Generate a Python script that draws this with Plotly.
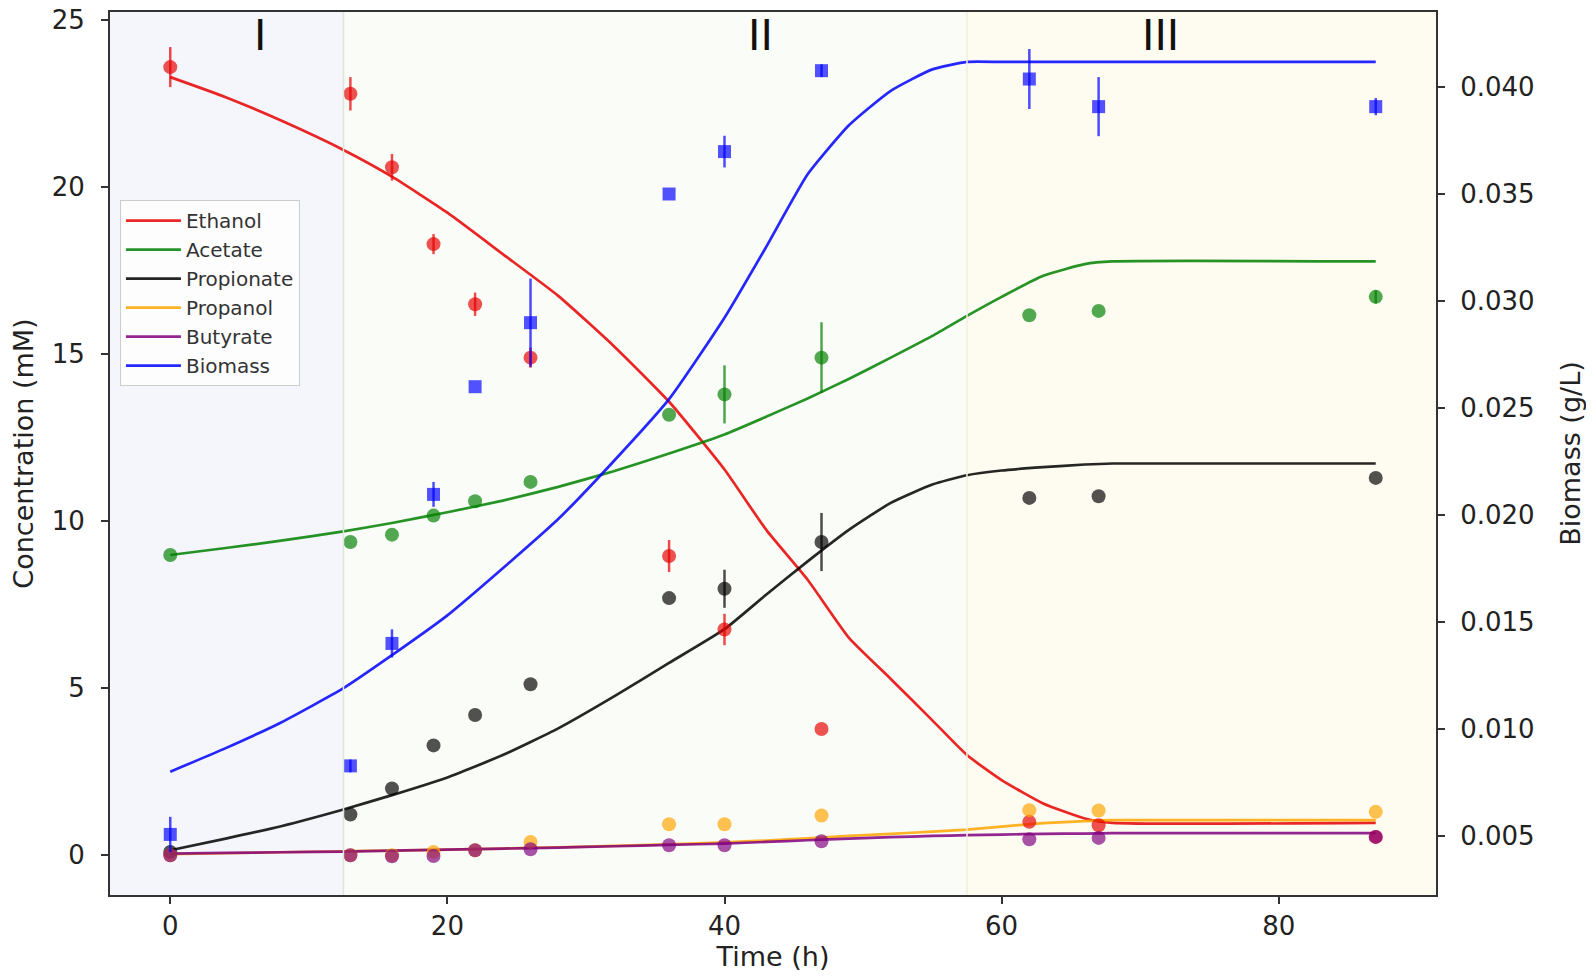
import plotly.graph_objects as go

# ---------------- data ----------------
time = [0, 13, 16, 19, 22, 26, 36, 40, 47, 62, 67, 87]

ethanol = [23.6, 22.8, 20.6, 18.3, 16.5, 14.9, 8.96, 6.76, 3.78, 1.0, 0.9, 0.55]
ethanol_err = [0.6, 0.5, 0.4, 0.3, 0.35, 0.3, 0.48, 0.47, 0, 0, 0, 0]

acetate = [8.99, 9.38, 9.6, 10.17, 10.6, 11.18, 13.19, 13.8, 14.9, 16.17, 16.3, 16.72]
acetate_err = [0, 0, 0, 0, 0, 0, 0, 0.87, 1.06, 0, 0, 0.2]

propionate = [0.1, 1.22, 2.0, 3.29, 4.2, 5.12, 7.7, 7.98, 9.38, 10.7, 10.75, 11.3]
propionate_err = [0, 0, 0, 0, 0, 0, 0, 0.57, 0.87, 0, 0, 0]

propanol = [0.0, 0.0, 0.0, 0.1, 0.15, 0.4, 0.93, 0.93, 1.19, 1.35, 1.34, 1.3]
butyrate = [0.0, 0.0, -0.03, -0.02, 0.15, 0.18, 0.3, 0.3, 0.42, 0.48, 0.52, 0.55]

biomass = [0.00507, 0.00827, 0.01399, 0.02095, 0.02598, 0.02897, 0.03498, 0.03696,
           0.04074, 0.04035, 0.03906, 0.03906]
biomass_err = [0.00082, 0.0003, 0.00066, 0.00058, 0, 0.00206, 0, 0.00074,
               0.0003, 0.0014, 0.00138, 0.0004]

model_t = [0, 4, 8, 12.5, 16, 20, 24, 28, 32, 36, 40, 43, 46, 49, 52, 55, 57.5,
           60, 63, 66, 68, 87]
ethanol_fit = [23.30, 22.70, 22.00, 21.12, 20.32, 19.24, 18.0, 16.75, 15.25, 13.58,
               11.55, 9.75, 8.25, 6.5, 5.28, 4.04, 3.0, 2.25, 1.55, 1.1, 0.97, 0.97]
acetate_fit = [8.99, 9.2, 9.42, 9.70, 9.95, 10.27, 10.62, 11.03, 11.5, 12.03, 12.6,
               13.13, 13.68, 14.27, 14.9, 15.55, 16.15, 16.72, 17.35, 17.7, 17.78, 17.78]
propionate_fit = [0.15, 0.5, 0.87, 1.37, 1.8, 2.33, 3.0, 3.8, 4.75, 5.76, 6.77, 7.8,
                  8.8, 9.75, 10.55, 11.1, 11.38, 11.52, 11.62, 11.7, 11.73, 11.73]
propanol_fit = [0.03, 0.06, 0.09, 0.12, 0.14, 0.17, 0.2, 0.24, 0.28, 0.33, 0.39, 0.44,
                0.51, 0.58, 0.64, 0.71, 0.77, 0.86, 0.96, 1.02, 1.05, 1.05]
butyrate_fit = [0.05, 0.07, 0.09, 0.11, 0.14, 0.17, 0.2, 0.23, 0.27, 0.31, 0.35, 0.4,
                0.45, 0.5, 0.54, 0.58, 0.6, 0.62, 0.64, 0.65, 0.66, 0.66]
biomass_fit = [0.0080, 0.0091, 0.0103, 0.0119, 0.01344, 0.0153, 0.0175, 0.0198, 0.0225,
               0.0254, 0.0292, 0.0325, 0.0359, 0.0382, 0.0398, 0.0408, 0.04115, 0.04115,
               0.04115, 0.04115, 0.04115, 0.04115]

phase_labels = ["I", "II", "III"]
phase_label_x = [6.5, 42.6, 71.5]
phase_bounds = [12.5, 57.5]

# ---------------- figure ----------------
FONT = "DejaVu Sans"
fig = go.Figure()

series = [
    ("Ethanol", ethanol, ethanol_err, ethanol_fit, (230, 0, 0), "y"),
    ("Acetate", acetate, acetate_err, acetate_fit, (0, 128, 0), "y"),
    ("Propionate", propionate, propionate_err, propionate_fit, (0, 0, 0), "y"),
    ("Propanol", propanol, None, propanol_fit, (255, 165, 0), "y"),
    ("Butyrate", butyrate, None, butyrate_fit, (128, 0, 128), "y"),
    ("Biomass", biomass, biomass_err, biomass_fit, (0, 0, 255), "y2"),
]

def rgba(c, a):
    return f"rgba({c[0]},{c[1]},{c[2]},{a})"

# fitted lines (legend entries)
for name, vals, err, fit, col, yax in series:
    fig.add_trace(go.Scatter(
        x=model_t, y=fit, mode="lines", name=name, yaxis=yax,
        line=dict(color=rgba(col, 0.85), width=2.7, shape="spline", smoothing=0.5),
    ))

# measured points
for name, vals, err, fit, col, yax in series:
    kw = {}
    if err is not None:
        kw["error_y"] = dict(type="data", array=err, thickness=2.5, width=0,
                             color=rgba(col, 0.7))
    fig.add_trace(go.Scatter(
        x=time, y=vals, mode="markers", name=name, yaxis=yax, showlegend=False,
        marker=dict(color=rgba(col, 0.68), size=14 if yax == "y" else 13,
                    symbol="circle" if yax == "y" else "square",
                    line=dict(width=0)),
        **kw,
    ))

XMIN, XMAX = -4.35, 91.35
shapes = [
    dict(type="rect", xref="x", yref="paper", x0=XMIN, x1=phase_bounds[0], y0=0, y1=1,
         fillcolor="#f4f6fb", line=dict(width=0), layer="below"),
    dict(type="rect", xref="x", yref="paper", x0=phase_bounds[0], x1=phase_bounds[1],
         y0=0, y1=1, fillcolor="#fafcf7", line=dict(width=0), layer="below"),
    dict(type="rect", xref="x", yref="paper", x0=phase_bounds[1], x1=XMAX, y0=0, y1=1,
         fillcolor="#fefbf1", line=dict(width=0), layer="below"),
    dict(type="line", xref="x", yref="paper", x0=phase_bounds[0], x1=phase_bounds[0],
         y0=0, y1=1, line=dict(color="#dfe7dc", width=1.5), layer="above"),
    dict(type="line", xref="x", yref="paper", x0=phase_bounds[1], x1=phase_bounds[1],
         y0=0, y1=1, line=dict(color="#f3eedc", width=1.5), layer="above"),
]

annotations = [
    dict(x=px, y=24.55, xref="x", yref="y", text=t, showarrow=False,
         font=dict(family=FONT, size=42, color="#111"))
    for t, px in zip(phase_labels, phase_label_x)
]

axis_common = dict(
    showgrid=False, zeroline=False, showline=True, linecolor="#333", linewidth=2,
    ticks="outside", ticklen=7, tickwidth=2, tickcolor="#333", automargin=False,
    ticklabeloverflow="allow",
    tickfont=dict(family=FONT, size=26, color="#222"),
)

# the page has an 8px body margin, so the figure is sized to fit inside the window
fig.update_layout(
    width=1578, height=964,
    margin=dict(l=102, r=150, t=4, b=77),
    paper_bgcolor="white", plot_bgcolor="white",
    font=dict(family=FONT, color="#222"),
    shapes=shapes, annotations=annotations,
    xaxis=dict(range=[XMIN, XMAX], tickvals=[0, 20, 40, 60, 80], mirror=True,
               title=dict(text="Time (h)", font=dict(family=FONT, size=27), standoff=14),
               ticklabelstandoff=0, **axis_common),
    yaxis=dict(range=[-1.19, 25.25], tickvals=[0, 5, 10, 15, 20, 25], mirror=False,
               title=dict(text="Concentration (mM)", font=dict(family=FONT, size=27),
                          standoff=30),
               ticklabelstandoff=11, **axis_common),
    yaxis2=dict(range=[0.00224, 0.04348], overlaying="y", side="right",
                tickvals=[0.005, 0.010, 0.015, 0.020, 0.025, 0.030, 0.035, 0.040],
                tickformat=".3f",
                title=dict(text="Biomass (g/L)", font=dict(family=FONT, size=27),
                           standoff=28),
                ticklabelstandoff=10, **axis_common),
    legend=dict(x=0.0075, y=0.787, xanchor="left", yanchor="top",
                bgcolor="rgba(255,255,255,0.8)", bordercolor="#cccccc", borderwidth=1,
                font=dict(family=FONT, size=20, color="#333"), itemwidth=55),
)

fig.write_html("out.html")
